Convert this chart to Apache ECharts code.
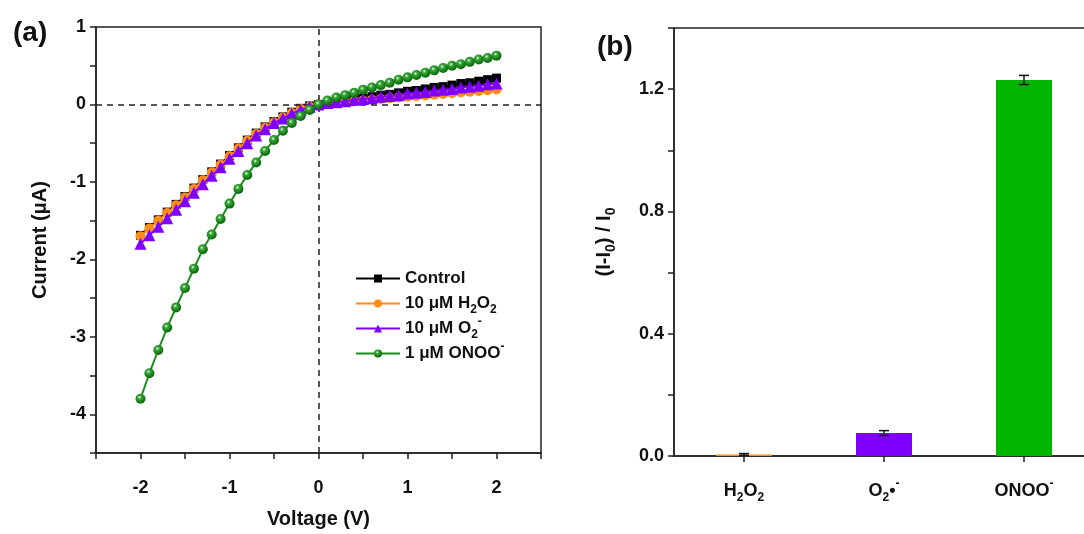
<!DOCTYPE html>
<html>
<head>
<meta charset="utf-8">
<script src="https://cdn.jsdelivr.net/npm/echarts@6/dist/echarts.min.js"></script>
<style>
html,body{margin:0;padding:0;background:#fff;overflow:hidden;}
#c{width:1100px;height:534px;}
</style>
</head>
<body>
<div id="c"></div>
<script>
// ---------- Panel (a): I-V curves ----------
const voltage = [-2.0,-1.9,-1.8,-1.7,-1.6,-1.5,-1.4,-1.3,-1.2,-1.1,-1.0,-0.9,-0.8,-0.7,-0.6,-0.5,-0.4,-0.3,-0.2,-0.1,0.0,
  0.1,0.2,0.3,0.4,0.5,0.6,0.7,0.8,0.9,1.0,1.1,1.2,1.3,1.4,1.5,1.6,1.7,1.8,1.9,2.0];
const control = [-1.69,-1.59,-1.49,-1.39,-1.29,-1.19,-1.08,-0.97,-0.87,-0.77,-0.66,-0.56,-0.46,-0.37,-0.29,-0.22,-0.16,-0.10,-0.05,-0.02,0.00,
  0.02,0.03,0.05,0.07,0.08,0.10,0.12,0.13,0.15,0.17,0.18,0.20,0.22,0.23,0.25,0.27,0.28,0.30,0.32,0.34];
const h2o2 = [-1.70,-1.60,-1.50,-1.40,-1.30,-1.20,-1.09,-0.98,-0.88,-0.78,-0.67,-0.57,-0.47,-0.38,-0.30,-0.23,-0.17,-0.11,-0.06,-0.03,0.00,
  0.01,0.02,0.03,0.04,0.05,0.06,0.07,0.08,0.09,0.10,0.105,0.115,0.125,0.135,0.145,0.155,0.165,0.175,0.185,0.195];
const o2 = [-1.80,-1.69,-1.58,-1.47,-1.36,-1.25,-1.14,-1.03,-0.92,-0.81,-0.70,-0.60,-0.50,-0.40,-0.32,-0.24,-0.18,-0.12,-0.07,-0.03,0.00,
  0.02,0.03,0.04,0.06,0.07,0.08,0.10,0.11,0.12,0.14,0.15,0.16,0.18,0.19,0.20,0.22,0.23,0.24,0.26,0.27];
const onoo = [-3.80,-3.47,-3.17,-2.88,-2.62,-2.37,-2.12,-1.87,-1.68,-1.48,-1.28,-1.09,-0.91,-0.75,-0.60,-0.46,-0.34,-0.24,-0.15,-0.07,0.00,
  0.05,0.09,0.12,0.15,0.19,0.22,0.25,0.28,0.32,0.35,0.38,0.41,0.44,0.47,0.50,0.52,0.55,0.58,0.60,0.63];
const seriesNames = ['Control', '10 μM H2O2', '10 μM O2-', '1 μM ONOO-'];
const legendRich = {
  'Control': '{a|Control}{s|\u200b}{p|\u200b}',
  '10 μM H2O2': '{a|10 μM H}{s|2}{a|O}{s|2}{p|\u200b}',
  '10 μM O2-': '{a|10 μM O}{s|2}{p|-}',
  '1 μM ONOO-': '{a|1 μM ONOO}{s|\u200b}{p|-}'
};

// ---------- Panel (b): response bars ----------
const barCategories = ['H2O2', 'O2•-', 'ONOO-'];
const barLabels = ['{a|H}{s|2}{a|O}{s|2}', '{a|O}{s|2}{a|•}{p|-}', '{a|ONOO}{p|-}'];
const barValues = [0.005, 0.075, 1.23];
const barErrors = [0.003, 0.008, 0.015];
const barColors = ['#FF8C1A', '#8000FF', '#00B400'];

const FONT = 'Liberation Sans';
const richText = function (size) {
  const small = Math.round(size * 0.68);
  return {
    a: {fontFamily: FONT, fontWeight: 'bold', fontSize: size, color: '#111', lineHeight: size + 8},
    s: {fontFamily: FONT, fontWeight: 'bold', fontSize: small, color: '#111', lineHeight: 10, verticalAlign: 'bottom'},
    p: {fontFamily: FONT, fontWeight: 'bold', fontSize: small, color: '#111', lineHeight: 10, verticalAlign: 'top'}
  };
};

const chart = echarts.init(document.getElementById('c'), null, {renderer: 'canvas'});

const greenBall = new echarts.graphic.RadialGradient(0.4, 0.35, 0.6, [
  {offset: 0, color: '#f2fff2'},
  {offset: 0.3, color: '#3aa83a'},
  {offset: 1, color: '#0a6a0a'}
]);

function pairs(arr) { return voltage.map((v, i) => [v, arr[i]]); }

const lineColors = ['#000000', '#FF8C1A', '#8000FF', '#1E8C1E'];
const symbols = ['rect', 'circle', 'triangle', 'circle'];
const symSizes = [9, 10, 12, 10];
const dataSets = [control, h2o2, o2, onoo];

const lineSeries = seriesNames.map((n, k) => ({
  name: n,
  type: 'line',
  xAxisIndex: 0, yAxisIndex: 0,
  data: pairs(dataSets[k]),
  symbol: symbols[k],
  symbolSize: symSizes[k],
  showAllSymbol: true,
  lineStyle: {color: lineColors[k], width: 2},
  itemStyle: {color: k === 3 ? greenBall : lineColors[k], borderWidth: 0},
  emphasis: {disabled: true},
  animation: false,
  z: 3 + k,
  markLine: k === 0 ? {
    silent: true, symbol: 'none', animation: false,
    lineStyle: {color: '#222', type: [6, 5], width: 1.5},
    label: {show: false},
    data: [{xAxis: 0}, {yAxis: 0}]
  } : undefined
}));

const tickLabelStyle = {fontFamily: FONT, fontWeight: 'bold', fontSize: 18, color: '#111'};

const option = {
  backgroundColor: '#ffffff',
  animation: false,
  title: [
    {text: '(a)', left: 8, top: 14, textStyle: {fontFamily: FONT, fontWeight: 'bold', fontSize: 28, color: '#111'}},
    {text: '(b)', left: 592, top: 28, textStyle: {fontFamily: FONT, fontWeight: 'bold', fontSize: 28, color: '#111'}}
  ],
  legend: {
    data: seriesNames,
    orient: 'vertical',
    left: 350, top: 261,
    itemWidth: 44, itemHeight: 10, itemGap: 0,
    formatter: n => legendRich[n],
    textStyle: {rich: richText(17), fontSize: 17, fontWeight: 'bold', fontFamily: FONT},
    selectedMode: false
  },
  grid: [
    {left: 96, right: 559, top: 27, bottom: 80, show: true, borderColor: '#222', borderWidth: 1.5, backgroundColor: 'transparent'},
    {left: 674, right: 6, top: 28, bottom: 78, show: true, borderColor: '#222', borderWidth: 1.5, backgroundColor: 'transparent'}
  ],
  xAxis: [
    {
      type: 'value', gridIndex: 0, min: -2.5, max: 2.5, interval: 0.5,
      axisLine: {show: true, onZero: false, lineStyle: {color: '#222', width: 1.5}},
      axisTick: {show: true, inside: false, length: 6, lineStyle: {color: '#222', width: 1.5}},
      axisLabel: {...tickLabelStyle, margin: 26, formatter: v => (Math.abs(v - Math.round(v)) < 1e-9 ? String(Math.round(v)) : '')},
      splitLine: {show: false},
      name: 'Voltage (V)', nameLocation: 'middle', nameGap: 56,
      nameTextStyle: {fontFamily: FONT, fontWeight: 'bold', fontSize: 20, color: '#111'}
    },
    {
      type: 'category', gridIndex: 1, data: barCategories,
      axisLine: {show: true, lineStyle: {color: '#222', width: 1.5}},
      axisTick: {show: true, alignWithLabel: true, length: 6, lineStyle: {color: '#222', width: 1.5}},
      axisLabel: {margin: 22, formatter: (v, i) => barLabels[i], rich: richText(18)},
      splitLine: {show: false}
    }
  ],
  yAxis: [
    {
      type: 'value', gridIndex: 0, min: -4.5, max: 1, interval: 0.5,
      axisLine: {show: true, onZero: false, lineStyle: {color: '#222', width: 1.5}},
      axisTick: {show: true, inside: false, length: 6, lineStyle: {color: '#222', width: 1.5}},
      axisLabel: {...tickLabelStyle, margin: 10, formatter: v => (Math.abs(v - Math.round(v)) < 1e-9 ? String(Math.round(v)) : '')},
      splitLine: {show: false},
      name: 'Current (μA)', nameLocation: 'middle', nameGap: 46, nameRotate: 90,
      nameTextStyle: {fontFamily: FONT, fontWeight: 'bold', fontSize: 20, color: '#111'}
    },
    {
      type: 'value', gridIndex: 1, min: 0, max: 1.4, interval: 0.2,
      axisLine: {show: true, lineStyle: {color: '#222', width: 1.5}},
      axisTick: {show: true, inside: false, length: 6, lineStyle: {color: '#222', width: 1.5}},
      axisLabel: {...tickLabelStyle, margin: 10, formatter: v => {
        const k = Math.round(v / 0.2);
        return (k % 2 === 0 && k < 7) ? v.toFixed(1) : '';
      }},
      splitLine: {show: false},
      name: '{a|(I-I}{s|0}{a|) / I}{s|0}', nameLocation: 'middle', nameGap: 56, nameRotate: 90,
      nameTextStyle: {rich: richText(20)}
    }
  ],
  series: [
    ...lineSeries,
    {
      type: 'bar', xAxisIndex: 1, yAxisIndex: 1,
      data: barValues.map((v, i) => ({value: v, itemStyle: {color: barColors[i]}})),
      barWidth: 56,
      emphasis: {disabled: true},
      animation: false
    },
    {
      type: 'custom', xAxisIndex: 1, yAxisIndex: 1,
      data: barValues.map((v, i) => [i, v - barErrors[i], v + barErrors[i]]),
      renderItem: function (params, api) {
        const lo = api.coord([api.value(0), api.value(1)]);
        const hi = api.coord([api.value(0), api.value(2)]);
        const w = 5;
        const st = {stroke: '#111', lineWidth: 1.5};
        return {
          type: 'group',
          children: [
            {type: 'line', shape: {x1: lo[0], y1: lo[1], x2: hi[0], y2: hi[1]}, style: st},
            {type: 'line', shape: {x1: lo[0] - w, y1: lo[1], x2: lo[0] + w, y2: lo[1]}, style: st},
            {type: 'line', shape: {x1: hi[0] - w, y1: hi[1], x2: hi[0] + w, y2: hi[1]}, style: st}
          ]
        };
      },
      z: 10,
      animation: false
    }
  ]
};
chart.setOption(option);
</script>
</body>
</html>
